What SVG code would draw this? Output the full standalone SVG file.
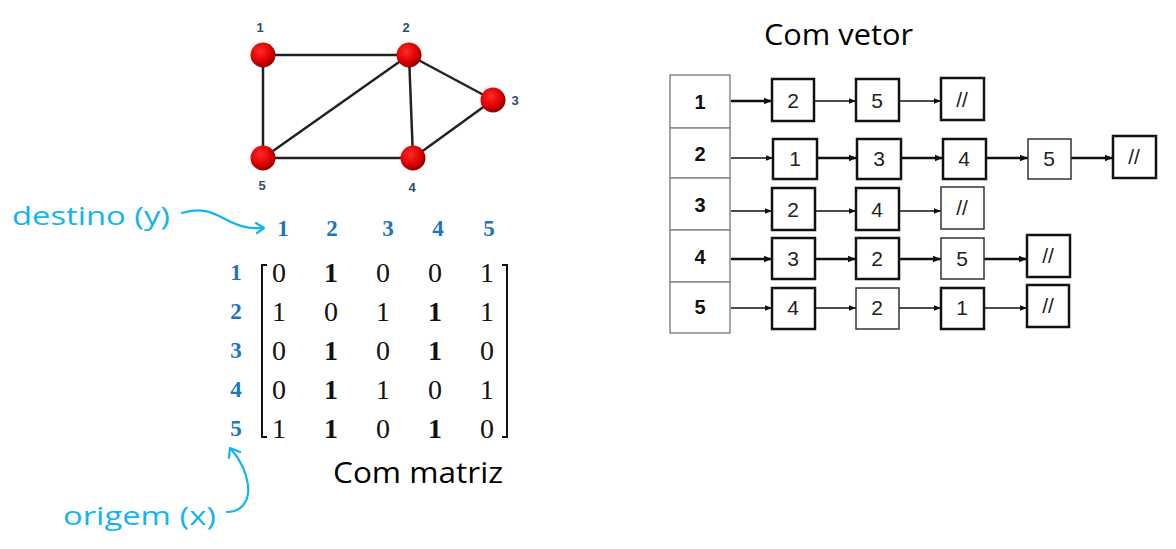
<svg xmlns="http://www.w3.org/2000/svg" width="1176" height="549" viewBox="0 0 1176 549">
<style>
.edge{stroke:#222;stroke-width:2.5;fill:none}
.glab{font-family:"Liberation Sans",Arial,sans-serif;font-weight:bold;font-size:13px;fill:#2e4d6e;text-anchor:middle}
.hdr{font-family:"Liberation Serif",serif;font-weight:bold;font-size:23px;fill:#1a75c4;text-anchor:middle}
.m{font-family:"Liberation Serif",serif;font-size:28px;fill:#111;text-anchor:middle}
.mb{font-weight:bold}
.brk{stroke:#111;stroke-width:2;fill:none}
.hand{font-family:"Open Sans","Liberation Sans",sans-serif;font-size:26px}
.cyan{fill:#14b4f0}
.cline{stroke:#14b4f0;stroke-width:2.2;fill:none;stroke-linecap:round;stroke-linejoin:round}
.title{font-family:"Open Sans","Liberation Sans",sans-serif;font-size:29px;fill:#000}
.cell{fill:#fff;stroke:#888;stroke-width:1.5}
.clab{font-family:"Liberation Sans",Arial,sans-serif;font-weight:bold;font-size:20px;fill:#111;text-anchor:middle}
.box{fill:#fff;stroke:#111;stroke-width:2.5}
.boxt{fill:#fff;stroke:#333;stroke-width:1.5}
.bt{font-family:"Liberation Sans",Arial,sans-serif;font-size:21px;fill:#222;text-anchor:middle}
.arr{stroke:#111;stroke-width:1.3;fill:none;marker-end:url(#ah)}
.arrb{stroke:#111;stroke-width:2.5;fill:none;marker-end:url(#ah2)}
</style>
<defs>
<radialGradient id="red" cx="0.4" cy="0.35" r="0.7">
<stop offset="0" stop-color="#ff2a2a"/>
<stop offset="0.6" stop-color="#dd0000"/>
<stop offset="1" stop-color="#800000"/>
</radialGradient>
<marker id="ah" viewBox="0 0 10 10" refX="10" refY="5" markerWidth="7" markerHeight="7" markerUnits="userSpaceOnUse" orient="auto">
<path d="M0,1 L10,5 L0,9 z" fill="#111"/>
</marker>
<marker id="ah2" viewBox="0 0 10 10" refX="10" refY="5" markerWidth="8" markerHeight="8" markerUnits="userSpaceOnUse" orient="auto">
<path d="M0,1 L10,5 L0,9 z" fill="#111"/>
</marker>
</defs>
<rect width="1176" height="549" fill="#fff"/>

<!-- graph -->
<g id="graph-edges">
<line class="edge" x1="263" y1="55" x2="409" y2="55"/>
<line class="edge" x1="263" y1="55" x2="263" y2="158"/>
<line class="edge" x1="409" y1="55" x2="263" y2="158"/>
<line class="edge" x1="409" y1="55" x2="413" y2="158"/>
<line class="edge" x1="409" y1="55" x2="493" y2="100"/>
<line class="edge" x1="493" y1="100" x2="413" y2="158"/>
<line class="edge" x1="263" y1="158" x2="413" y2="158"/>
</g>
<g id="g1"><circle cx="263" cy="55" r="12.5" fill="url(#red)"/><text class="glab" x="260" y="32">1</text></g>
<g id="g2"><circle cx="409" cy="55" r="12.5" fill="url(#red)"/><text class="glab" x="406" y="32">2</text></g>
<g id="g3"><circle cx="493" cy="100" r="12.5" fill="url(#red)"/><text class="glab" x="515" y="105">3</text></g>
<g id="g4"><circle cx="413" cy="158" r="12.5" fill="url(#red)"/><text class="glab" x="412" y="192">4</text></g>
<g id="g5"><circle cx="263" cy="158" r="12.5" fill="url(#red)"/><text class="glab" x="262" y="190">5</text></g>

<!-- matrix -->
<g id="matrix">
<text class="hdr" x="283" y="236">1</text>
<text class="hdr" x="332" y="236">2</text>
<text class="hdr" x="388" y="236">3</text>
<text class="hdr" x="438" y="236">4</text>
<text class="hdr" x="489" y="236">5</text>
<text class="hdr" x="236" y="280">1</text>
<text class="hdr" x="236" y="319">2</text>
<text class="hdr" x="236" y="358">3</text>
<text class="hdr" x="236" y="397">4</text>
<text class="hdr" x="236" y="436">5</text>
<path class="brk" d="M267,265 H262 V437 H267"/>
<path class="brk" d="M502,265 H507 V437 H502"/>
<text class="m" x="279" y="282">0</text><text class="m mb" x="331" y="282">1</text><text class="m" x="383" y="282">0</text><text class="m" x="435" y="282">0</text><text class="m" x="487" y="282">1</text>
<text class="m" x="279" y="321">1</text><text class="m" x="331" y="321">0</text><text class="m" x="383" y="321">1</text><text class="m mb" x="435" y="321">1</text><text class="m" x="487" y="321">1</text>
<text class="m" x="279" y="360">0</text><text class="m mb" x="331" y="360">1</text><text class="m" x="383" y="360">0</text><text class="m mb" x="435" y="360">1</text><text class="m" x="487" y="360">0</text>
<text class="m" x="279" y="399">0</text><text class="m mb" x="331" y="399">1</text><text class="m" x="383" y="399">1</text><text class="m" x="435" y="399">0</text><text class="m" x="487" y="399">1</text>
<text class="m" x="279" y="438">1</text><text class="m mb" x="331" y="438">1</text><text class="m" x="383" y="438">0</text><text class="m mb" x="435" y="438">1</text><text class="m" x="487" y="438">0</text>
</g>

<!-- annotations -->
<g id="destino">
<text class="hand cyan" x="12" y="225" textLength="158" lengthAdjust="spacingAndGlyphs">destino (y)</text>
<path class="cline" d="M182,213 C200,207 212,212 225,219 C240,227 250,229 263,228"/>
<path class="cline" d="M256,223 L264,228 L257,233"/>
</g>
<g id="origem">
<text class="hand cyan" x="63" y="525" textLength="153" lengthAdjust="spacingAndGlyphs">origem (x)</text>
<path class="cline" d="M227,512 C240,512 250,503 248,485 C246,470 238,457 231,449"/>
<path class="cline" d="M229,458 L230,448 L240,452"/>
</g>
<text class="title" x="333" y="483" textLength="170" lengthAdjust="spacingAndGlyphs">Com matriz</text>
<text class="title" x="764" y="45" textLength="149" lengthAdjust="spacingAndGlyphs">Com vetor</text>

<!-- adjacency list -->
<g id="vec">
<rect class="cell" x="670" y="75" width="60" height="53"/>
<rect class="cell" x="670" y="128" width="60" height="50"/>
<rect class="cell" x="670" y="178" width="60" height="52"/>
<rect class="cell" x="670" y="230" width="60" height="52"/>
<rect class="cell" x="670" y="282" width="60" height="51"/>
<text class="clab" x="700" y="109">1</text>
<text class="clab" x="700" y="161">2</text>
<text class="clab" x="700" y="212">3</text>
<text class="clab" x="700" y="264">4</text>
<text class="clab" x="700" y="314">5</text>
</g>

<g id="connectors">
<line class="arrb" x1="731" y1="101" x2="772" y2="101"/>
<line class="arr" x1="814" y1="101" x2="856" y2="101"/>
<line class="arr" x1="899" y1="101" x2="941" y2="101"/>

<line class="arr" x1="731" y1="158" x2="773" y2="158"/>
<line class="arrb" x1="817" y1="158" x2="857" y2="158"/>
<line class="arrb" x1="901" y1="158" x2="943" y2="158"/>
<line class="arrb" x1="986" y1="158" x2="1028" y2="158"/>
<line class="arrb" x1="1071" y1="158" x2="1113" y2="158"/>

<line class="arr" x1="731" y1="211" x2="772" y2="211"/>
<line class="arr" x1="815" y1="211" x2="856" y2="211"/>
<line class="arr" x1="899" y1="211" x2="941" y2="211"/>

<line class="arrb" x1="731" y1="259" x2="772" y2="259"/>
<line class="arrb" x1="815" y1="259" x2="856" y2="259"/>
<line class="arrb" x1="899" y1="259" x2="941" y2="259"/>
<line class="arrb" x1="984" y1="259" x2="1027" y2="259"/>

<line class="arr" x1="731" y1="308" x2="772" y2="308"/>
<line class="arr" x1="815" y1="308" x2="856" y2="308"/>
<line class="arr" x1="899" y1="308" x2="941" y2="308"/>
<line class="arr" x1="984" y1="308" x2="1027" y2="308"/>
</g>

<g id="r1">
<g id="r1n1"><rect class="box" x="772" y="79" width="42" height="42"/><text class="bt" x="793" y="108">2</text></g>
<g id="r1n2"><rect class="box" x="856" y="79" width="43" height="42"/><text class="bt" x="877" y="108">5</text></g>
<g id="r1n3"><rect class="box" x="941" y="78" width="43" height="42"/><text class="bt" x="962" y="107">//</text></g>
</g>
<g id="r2">
<g id="r2n1"><rect class="box" x="773" y="139" width="44" height="40"/><text class="bt" x="795" y="166">1</text></g>
<g id="r2n2"><rect class="box" x="857" y="139" width="44" height="40"/><text class="bt" x="879" y="166">3</text></g>
<g id="r2n3"><rect class="box" x="943" y="139" width="43" height="40"/><text class="bt" x="964" y="166">4</text></g>
<g id="r2n4"><rect class="boxt" x="1028" y="139" width="43" height="40"/><text class="bt" x="1049" y="166">5</text></g>
<g id="r2n5"><rect class="box" x="1113" y="136" width="43" height="42"/><text class="bt" x="1134" y="164">//</text></g>
</g>
<g id="r3">
<g id="r3n1"><rect class="box" x="772" y="188" width="43" height="42"/><text class="bt" x="793" y="217">2</text></g>
<g id="r3n2"><rect class="box" x="856" y="188" width="43" height="42"/><text class="bt" x="877" y="217">4</text></g>
<g id="r3n3"><rect class="boxt" x="941" y="187" width="43" height="42"/><text class="bt" x="962" y="215">//</text></g>
</g>
<g id="r4">
<g id="r4n1"><rect class="box" x="772" y="238" width="43" height="41"/><text class="bt" x="793" y="266">3</text></g>
<g id="r4n2"><rect class="box" x="856" y="238" width="43" height="41"/><text class="bt" x="877" y="266">2</text></g>
<g id="r4n3"><rect class="boxt" x="941" y="238" width="43" height="41"/><text class="bt" x="962" y="266">5</text></g>
<g id="r4n4"><rect class="box" x="1027" y="235" width="43" height="42"/><text class="bt" x="1048" y="263">//</text></g>
</g>
<g id="r5">
<g id="r5n1"><rect class="box" x="772" y="288" width="43" height="41"/><text class="bt" x="793" y="315">4</text></g>
<g id="r5n2"><rect class="boxt" x="856" y="288" width="43" height="41"/><text class="bt" x="877" y="315">2</text></g>
<g id="r5n3"><rect class="box" x="941" y="288" width="43" height="41"/><text class="bt" x="962" y="315">1</text></g>
<g id="r5n4"><rect class="box" x="1027" y="285" width="42" height="42"/><text class="bt" x="1048" y="313">//</text></g>
</g>
</svg>
